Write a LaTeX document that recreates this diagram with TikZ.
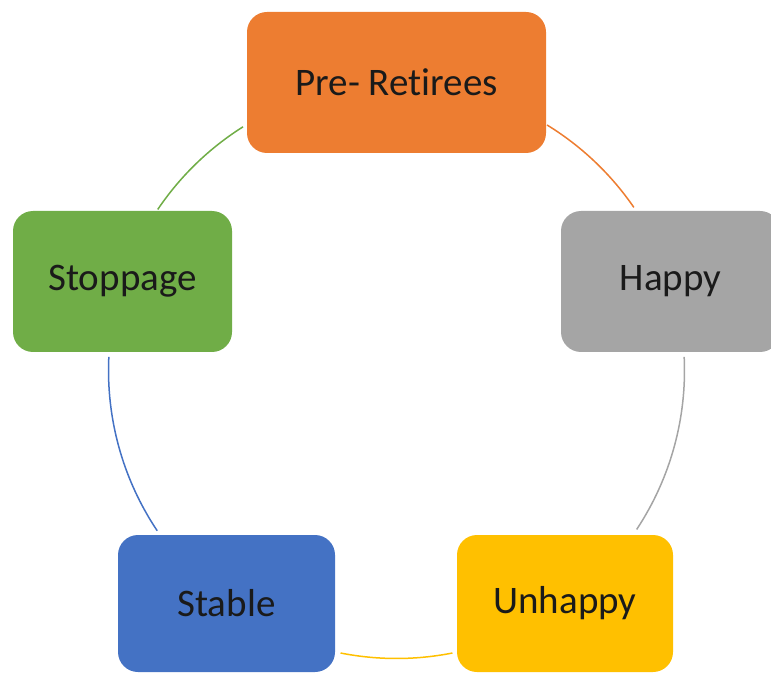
\documentclass[tikz,border=0pt]{standalone}
\usepackage{fontspec}
\setmainfont[Ligatures=NoCommon]{Carlito}
\usepackage{xcolor}
\definecolor{preorange}{HTML}{ED7D31}
\definecolor{happygray}{HTML}{A5A5A5}
\definecolor{unhappygold}{HTML}{FFC000}
\definecolor{stableblue}{HTML}{4472C4}
\definecolor{stopgreen}{HTML}{70AD47}
\definecolor{boxtext}{HTML}{1A1A1A}

\begin{document}
\begin{tikzpicture}[x=1pt, y=1pt,
    stage/.style={rounded corners=20pt, inner sep=0pt, text=boxtext,
        font=\fontsize{39}{46}\selectfont, minimum width=219pt, minimum height=141pt},
    ring/.style={line width=1.5pt}]
     \useasboundingbox (0,0) rectangle (771,673);
     \coordinate (ctr) at (396.5,302.5);
     \node[stage, fill=preorange, minimum width=299pt] (pre) at (396.5,590.5) {Pre- Retirees};
     \node[stage, fill=happygray] (happy) at (670.5,391.5) {Happy};
     \node[stage, fill=unhappygold, minimum width=216pt, minimum height=137pt] (unhappy) at (565,69.5) {Unhappy};
     \node[stage, fill=stableblue, minimum width=217pt, minimum height=137pt] (stable) at (226.5,69.5) {Stable};
     \node[stage, fill=stopgreen] (stop) at (122.5,391.5) {Stoppage};
     \draw[ring, preorange] ([shift={(58.5:288)}]ctr) arc[start angle=58.5, end angle=34.5, radius=288];
     \draw[ring, happygray] ([shift={(2.7:288)}]ctr) arc[start angle=2.7, end angle=-33.5, radius=288];
     \draw[ring, unhappygold] ([shift={(-78.8:288)}]ctr) arc[start angle=-78.8, end angle=-101.2, radius=288];
     \draw[ring, stableblue] ([shift={(-146.2:288)}]ctr) arc[start angle=-146.2, end angle=-182.7, radius=288];
     \draw[ring, stopgreen] ([shift={(146:288)}]ctr) arc[start angle=146, end angle=122.2, radius=288];
\end{tikzpicture}
\end{document}
